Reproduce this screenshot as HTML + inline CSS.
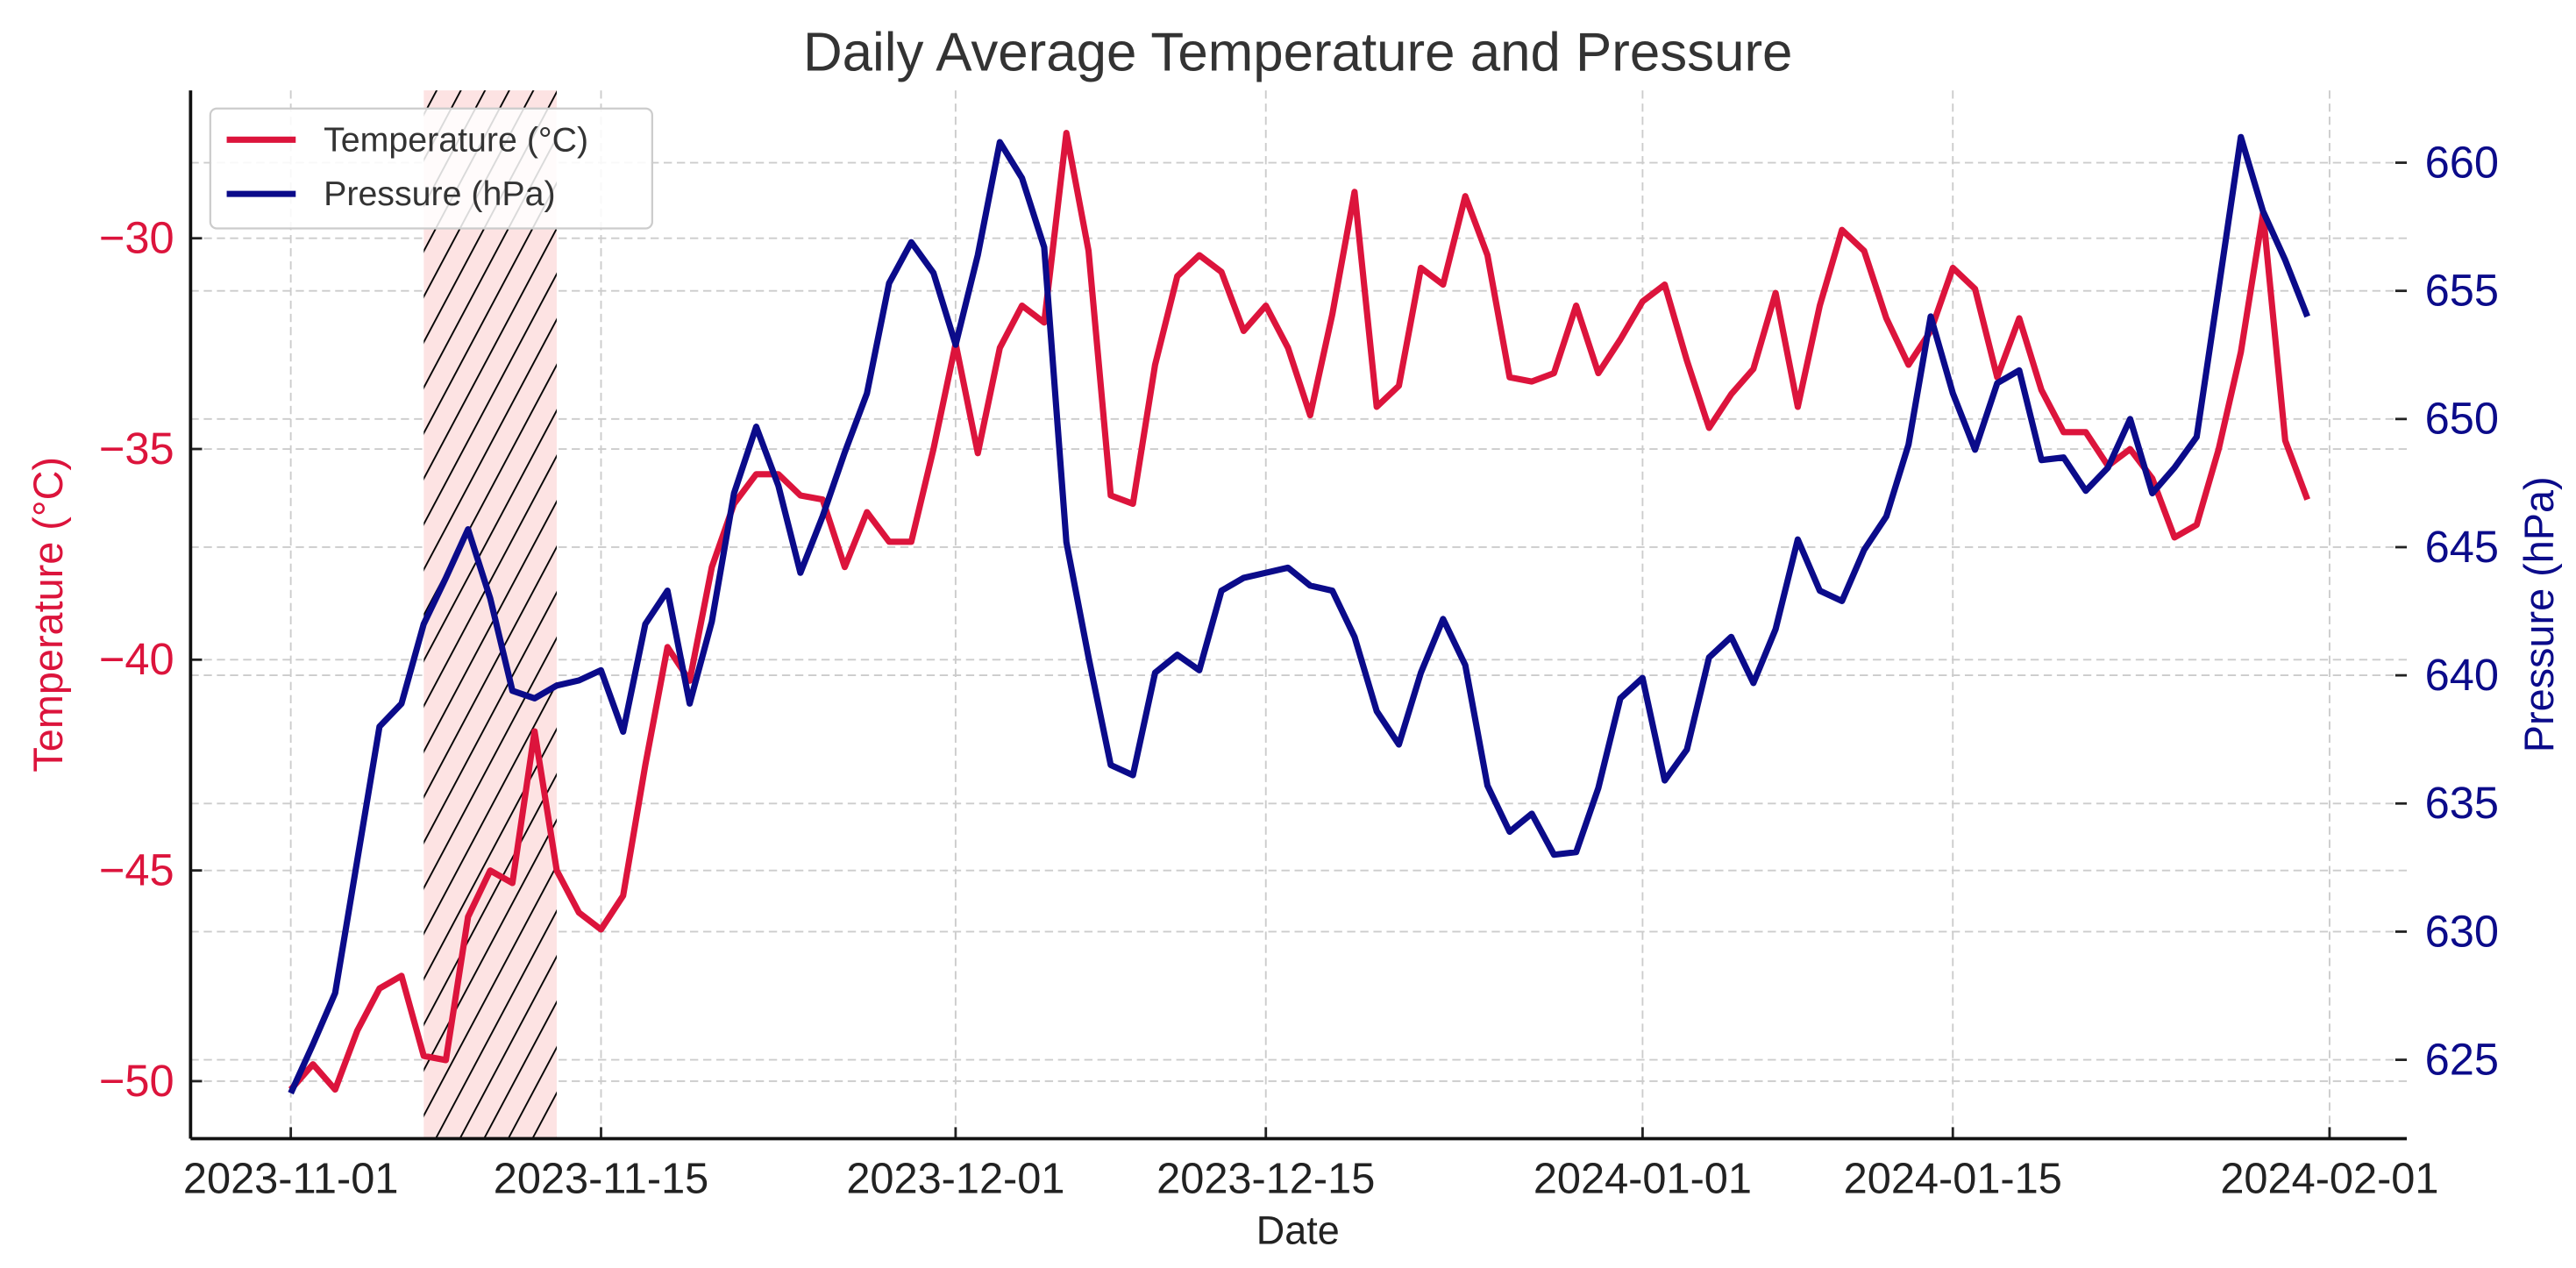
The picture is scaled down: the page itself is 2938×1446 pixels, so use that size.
<!DOCTYPE html>
<html><head><meta charset="utf-8"><style>
html,body{margin:0;padding:0;background:#fff;}
svg{display:block;font-family:"Liberation Sans",sans-serif;}
</style></head><body>
<svg id="chart" width="2938" height="1446" viewBox="0 0 1568 771.7" xmlns="http://www.w3.org/2000/svg">
<defs>
<pattern id="hatch" patternUnits="userSpaceOnUse" width="13" height="13" patternTransform="rotate(28)">
<rect width="13" height="13" fill="#fde3e3"/>
<line x1="0" y1="0" x2="0" y2="13" stroke="#000" stroke-width="2"/>
</pattern>
</defs>
<g id="grid"></g>
<rect id="hatch-rect" fill="url(#hatch)"/>
<g id="axes"></g>
<path id="temp-line" fill="none" stroke="#dc143c" stroke-width="3.8" stroke-linejoin="round"/>
<path id="pres-line" fill="none" stroke="#0b0b8a" stroke-width="3.8" stroke-linejoin="round"/>
<text x="790" y="43" text-anchor="middle" font-size="33" fill="#333">Daily Average Temperature and Pressure</text>
<text x="790" y="757" text-anchor="middle" font-size="24" fill="#222">Date</text>
<text transform="translate(38,374) rotate(-90)" text-anchor="middle" font-size="25" fill="#dc143c">Temperature (°C)</text>
<text transform="translate(1554,374) rotate(-90)" text-anchor="middle" font-size="25" fill="#0b0b8a">Pressure (hPa)</text>
<g>
<rect x="128" y="66" width="269" height="73" rx="4" fill="#fff" fill-opacity="0.85" stroke="#ccc" stroke-width="1.2"/>
<g>
<line x1="138" y1="85" x2="180" y2="85" stroke="#dc143c" stroke-width="3.8"/>
<text x="197" y="92" font-size="21" fill="#333">Temperature (°C)</text>
</g>
<g>
<line x1="138" y1="118" x2="180" y2="118" stroke="#0b0b8a" stroke-width="3.8"/>
<text x="197" y="125" font-size="21" fill="#333">Pressure (hPa)</text>
</g>
</g>
</svg>
<script>
const temperature = [-50.2,-49.6,-50.2,-48.8,-47.8,-47.5,-49.4,-49.5,-46.1,-45.0,-45.3,-41.7,-45.0,-46.0,-46.4,-45.6,-42.5,-39.7,-40.5,-37.8,-36.3,-35.6,-35.6,-36.1,-36.2,-37.8,-36.5,-37.2,-37.2,-35.0,-32.5,-35.1,-32.6,-31.6,-32.0,-27.5,-30.3,-36.1,-36.3,-33.0,-30.9,-30.4,-30.8,-32.2,-31.6,-32.6,-34.2,-31.8,-28.9,-34.0,-33.5,-30.7,-31.1,-29.0,-30.4,-33.3,-33.4,-33.2,-31.6,-33.2,-32.4,-31.5,-31.1,-32.9,-34.5,-33.7,-33.1,-31.3,-34.0,-31.6,-29.8,-30.3,-31.9,-33.0,-32.2,-30.7,-31.2,-33.3,-31.9,-33.6,-34.6,-34.6,-35.4,-35.0,-35.7,-37.1,-36.8,-35.0,-32.7,-29.4,-34.8,-36.2];
const pressure = [623.7,625.6,627.6,632.8,638.0,638.9,642.0,643.8,645.7,643.0,639.4,639.1,639.6,639.8,640.2,637.8,642.0,643.3,638.9,642.1,647.1,649.7,647.4,644.0,646.2,648.7,651.0,655.3,656.9,655.7,652.9,656.4,660.8,659.4,656.7,645.2,640.7,636.5,636.1,640.1,640.8,640.2,643.3,643.8,644.0,644.2,643.5,643.3,641.5,638.6,637.3,640.1,642.2,640.4,635.7,633.9,634.6,633.0,633.1,635.6,639.1,639.9,635.9,637.1,640.7,641.5,639.7,641.8,645.3,643.3,642.9,644.9,646.2,649.0,654.0,651.0,648.8,651.4,651.9,648.4,648.5,647.2,648.1,650.0,647.1,648.1,649.3,655.1,661.0,658.1,656.2,654.0];
const xTickLabels = ["2023-11-01","2023-11-15","2023-12-01","2023-12-15","2024-01-01","2024-01-15","2024-02-01"];
const xTickDays = [0,14,30,44,61,75,92];
const tempTicks = [-50,-45,-40,-35,-30];
const presTicks = [625,630,635,640,645,650,655,660];
const highlightStartDay = 6, highlightEndDay = 12;

const L=116,R=1465,T=55,B=693;
const xs = d => 177 + d*13.489;
const yT = v => 658 - (v+50)*25.65;
const yP = v => 645 - (v-625)*15.6;
const NS="http://www.w3.org/2000/svg";
function mk(tag, attrs, parent){const e=document.createElementNS(NS,tag);for(const k in attrs)e.setAttribute(k,attrs[k]);parent.appendChild(e);return e;}
const grid=document.getElementById('grid'), axes=document.getElementById('axes');
xTickDays.forEach((d,i)=>{
  const x=xs(d);
  const g=mk('line',{x1:x,y1:T,x2:x,y2:B,stroke:'#ccc','stroke-width':1,'stroke-dasharray':'5,3'},grid);
  
  
  mk('line',{x1:x,y1:B,x2:x,y2:B-7,stroke:'#222','stroke-width':1.5},axes);
  const t=mk('text',{x:x,y:B+33,'text-anchor':'middle','font-size':26,fill:'#222'},axes);
  t.textContent=xTickLabels[i];
  
  
});
tempTicks.forEach(v=>{
  const y=yT(v);
  const g=mk('line',{x1:L,y1:y,x2:R,y2:y,stroke:'#ccc','stroke-width':1,'stroke-dasharray':'5,3'},grid);
  
  
  mk('line',{x1:L,y1:y,x2:L+7,y2:y,stroke:'#222','stroke-width':1.5},axes);
  const t=mk('text',{x:L-10,y:y+9,'text-anchor':'end','font-size':27,fill:'#dc143c'},axes);
  t.textContent=(v<0?'\u2212':'')+Math.abs(v);
  
  
});
presTicks.forEach(v=>{
  const y=yP(v);
  const g=mk('line',{x1:L,y1:y,x2:R,y2:y,stroke:'#ccc','stroke-width':1,'stroke-dasharray':'5,3'},grid);
  
  
  mk('line',{x1:R-7,y1:y,x2:R,y2:y,stroke:'#222','stroke-width':1.5},axes);
  const t=mk('text',{x:R+11,y:y+9,'text-anchor':'start','font-size':27,fill:'#0b0b8a'},axes);
  t.textContent=v;
  
  
});
mk('line',{x1:L,y1:T,x2:L,y2:B,stroke:'#111','stroke-width':2},axes);
mk('line',{x1:L,y1:B,x2:R,y2:B,stroke:'#111','stroke-width':2},axes);
const hr=document.getElementById('hatch-rect');
hr.setAttribute('x',xs(highlightStartDay));hr.setAttribute('y',T);
hr.setAttribute('width',xs(highlightEndDay)-xs(highlightStartDay));hr.setAttribute('height',B-T);
document.getElementById('temp-line').setAttribute('d',temperature.map((v,i)=>(i?'L':'M')+xs(i).toFixed(1)+','+yT(v).toFixed(1)).join(''));
document.getElementById('pres-line').setAttribute('d',pressure.map((v,i)=>(i?'L':'M')+xs(i).toFixed(1)+','+yP(v).toFixed(1)).join(''));
</script>
</body></html>
